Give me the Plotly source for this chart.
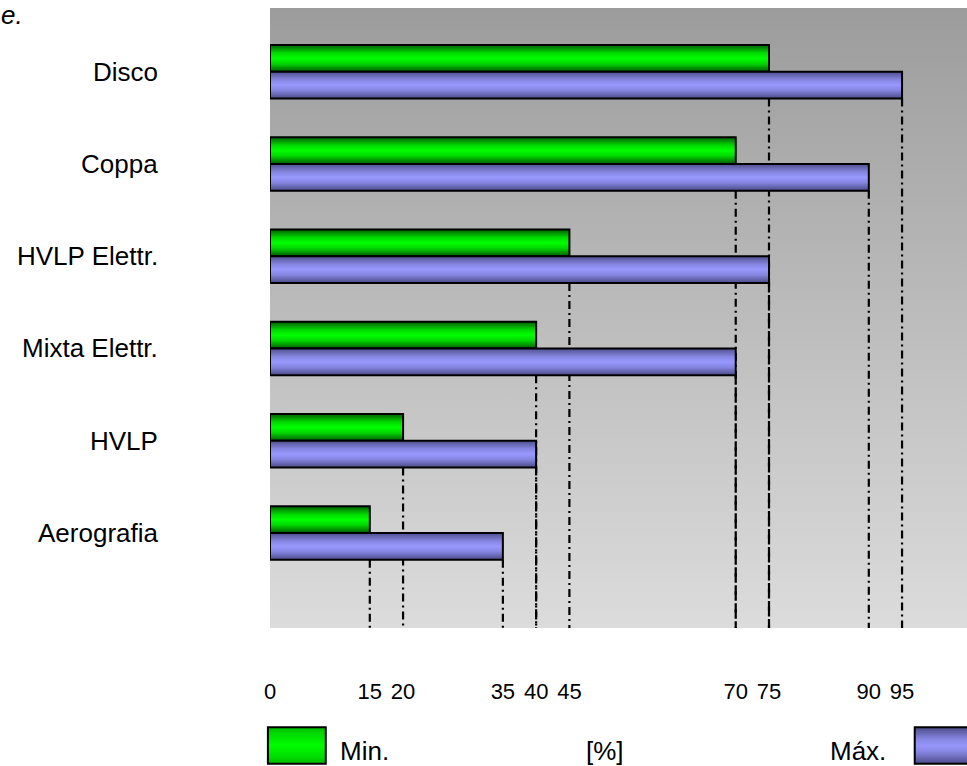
import plotly.graph_objects as go

# Spray / application methods and their transfer-efficiency range [%]
categories = ["Disco", "Coppa", "HVLP Elettr.", "Mixta Elettr.", "HVLP", "Aerografia"]
min_values = [75, 70, 45, 40, 20, 15]
max_values = [95, 90, 75, 70, 40, 35]

FONT = "Liberation Sans, Arial, sans-serif"
BAR_H = 0.29            # thickness of each bar in category units
Y_TOP, Y_BOTTOM = -0.69, 6.03
X_MAX = 104.76

GREEN_SCALE = [[0, "#005a00"], [0.3, "#00d800"], [0.5, "#00ff00"], [0.7, "#00d800"], [1, "#005a00"]]
BLUE_SCALE = [[0, "#4e4e8c"], [0.3, "#8585e0"], [0.5, "#9898ff"], [0.7, "#8585e0"], [1, "#4a4a86"]]

fig = go.Figure()

# plot-area background: dark grey at the top fading to light grey at the bottom
fig.add_trace(go.Scatter(
    x=[0, X_MAX, X_MAX, 0, 0], y=[Y_TOP, Y_TOP, Y_BOTTOM, Y_BOTTOM, Y_TOP],
    mode="lines", line=dict(width=0), fill="toself",
    fillgradient=dict(type="vertical", start=Y_TOP, stop=Y_BOTTOM,
                      colorscale=[[0, "#9c9c9c"], [1, "#dcdcdc"]]),
    hoverinfo="skip", showlegend=False,
))

# dash-dot drop lines from the end of every bar down to the bottom of the plot
lx, ly = [], []
for i, (lo, hi) in enumerate(zip(min_values, max_values)):
    for v in (lo, hi):
        lx += [v, v, None]
        ly += [i + BAR_H, Y_BOTTOM, None]
fig.add_trace(go.Scatter(
    x=lx, y=ly, mode="lines",
    line=dict(color="black", width=2.2, dash="8px,4px,2px,4px"),
    hoverinfo="skip", showlegend=False,
))


def add_bar(value, y0, y1, scale, name):
    fig.add_trace(go.Scatter(
        x=[0, value, value, 0, 0], y=[y0, y0, y1, y1, y0],
        mode="lines", fill="toself",
        line=dict(color="black", width=2),
        fillgradient=dict(type="vertical", start=y0, stop=y1, colorscale=scale),
        name=name, hovertemplate="%{x}%<extra>" + name + "</extra>",
        showlegend=False,
    ))


for i, (lo, hi) in enumerate(zip(min_values, max_values)):
    add_bar(lo, i - BAR_H, i, GREEN_SCALE, "Min.")
    add_bar(hi, i, i + BAR_H, BLUE_SCALE, "Máx.")

# category labels, right-aligned left of the plot
for i, cat in enumerate(categories):
    fig.add_annotation(
        text=cat, xref="paper", x=-0.158, xanchor="right",
        yref="y", y=i, yanchor="middle", showarrow=False,
        font=dict(family=FONT, size=26, color="black"),
    )


# legend-style key below the axis
def hex_to_rgb(h):
    h = h.lstrip("#")
    return tuple(int(h[k:k + 2], 16) for k in (0, 2, 4))


def scale_color(scale, t):
    for (t0, c0), (t1, c1) in zip(scale[:-1], scale[1:]):
        if t0 <= t <= t1:
            f = (t - t0) / (t1 - t0) if t1 > t0 else 0
            a, b = hex_to_rgb(c0), hex_to_rgb(c1)
            return "rgb(%d,%d,%d)" % tuple(round(a[k] + (b[k] - a[k]) * f) for k in range(3))
    return scale[-1][1]


def key_box(x0, x1, y0, y1, scale, soft=1.0):
    # nested rectangles, outer ones darker, shrinking toward the horizontal midline
    n = 14
    mid = (y0 + y1) / 2
    half = (y1 - y0) / 2
    for k in range(n):
        frac = 1 - k / n
        t = 0.5 - 0.5 * frac * soft
        fig.add_shape(type="rect", xref="paper", yref="paper",
                      x0=x0, x1=x1, y0=mid - half * frac, y1=mid + half * frac,
                      line=dict(width=0), fillcolor=scale_color(scale, t))
    fig.add_shape(type="rect", xref="paper", yref="paper",
                  x0=x0, x1=x1, y0=y0, y1=y1,
                  line=dict(color="black", width=2), fillcolor="rgba(0,0,0,0)")


key_box(-0.003, 0.080, -0.219, -0.160, GREEN_SCALE, soft=0.55)
key_box(0.925, 1.008, -0.219, -0.160, BLUE_SCALE)

key_font = dict(family=FONT, size=26, color="black")
fig.add_annotation(text="Min.", xref="paper", yref="paper", x=0.097, y=-0.198,
                   xanchor="left", yanchor="middle", showarrow=False, font=key_font)
fig.add_annotation(text="[%]", xref="paper", yref="paper", x=0.481, y=-0.198,
                   xanchor="center", yanchor="middle", showarrow=False, font=key_font)
fig.add_annotation(text="Máx.", xref="paper", yref="paper", x=0.886, y=-0.198,
                   xanchor="right", yanchor="middle", showarrow=False, font=key_font)

fig.add_annotation(text="<i>e.</i>", xref="paper", yref="paper", x=-0.389, y=0.988,
                   xanchor="left", yanchor="middle", showarrow=False, font=key_font)

tick_vals = sorted(set([0] + min_values + max_values))

fig.update_layout(
    width=967, height=766,
    margin=dict(l=270, r=0, t=8, b=138),
    paper_bgcolor="white", plot_bgcolor="white",
    font=dict(family=FONT, color="black"),
    showlegend=False,
    xaxis=dict(range=[0, X_MAX], showgrid=False, zeroline=False, showline=False,
               tickvals=tick_vals, ticktext=[str(v) for v in tick_vals],
               ticks="", ticklabelstandoff=48,
               tickfont=dict(family=FONT, size=22, color="black")),
    yaxis=dict(range=[Y_BOTTOM, Y_TOP], showgrid=False, zeroline=False, showline=False,
               showticklabels=False, ticks=""),
)

fig.write_html("out.html")
